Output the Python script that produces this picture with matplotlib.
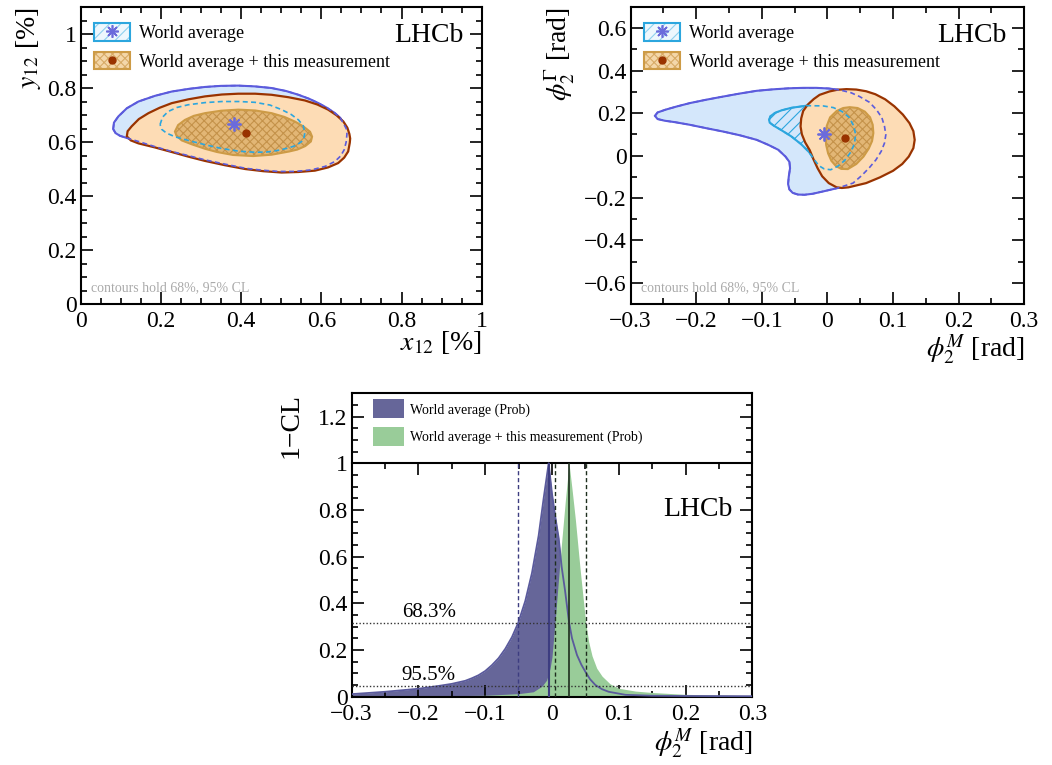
import matplotlib
matplotlib.use("Agg")
import matplotlib.pyplot as plt
from matplotlib.patches import Patch
from matplotlib.lines import Line2D
from matplotlib.ticker import MultipleLocator, FuncFormatter

plt.rcParams['font.family'] = 'serif'
plt.rcParams['font.serif'] = ['Liberation Serif', 'DejaVu Serif']
plt.rcParams['mathtext.fontset'] = 'stix'
plt.rcParams['hatch.linewidth'] = 0.8

# ---- x12 vs y12 contours [%]
wa95_x12 = [0.081, 0.083, 0.094, 0.115, 0.144, 0.185, 0.227, 0.270, 0.310, 0.350, 0.393,
            0.435, 0.476, 0.512, 0.543, 0.570, 0.593, 0.615, 0.634, 0.647, 0.655, 0.662,
            0.664, 0.662, 0.657, 0.648, 0.634, 0.610, 0.576, 0.535, 0.493, 0.450, 0.410,
            0.360, 0.310, 0.270, 0.227, 0.185, 0.144, 0.115, 0.098, 0.087]
wa95_y12 = [0.648, 0.672, 0.695, 0.725, 0.750, 0.771, 0.787, 0.797, 0.804, 0.808, 0.809,
            0.806, 0.800, 0.789, 0.775, 0.760, 0.744, 0.726, 0.707, 0.690, 0.670, 0.650,
            0.630, 0.600, 0.571, 0.548, 0.528, 0.510, 0.497, 0.491, 0.491, 0.496, 0.503,
            0.518, 0.534, 0.549, 0.565, 0.583, 0.602, 0.615, 0.623, 0.633]
wa68_x12 = [0.198, 0.204, 0.218, 0.240, 0.268, 0.310, 0.352, 0.395, 0.435, 0.472, 0.501,
            0.525, 0.543, 0.555, 0.559, 0.557, 0.551, 0.538, 0.518, 0.492, 0.464, 0.435,
            0.395, 0.352, 0.310, 0.268, 0.236, 0.214, 0.202]
wa68_y12 = [0.665, 0.692, 0.713, 0.728, 0.738, 0.746, 0.750, 0.750, 0.747, 0.737, 0.720,
            0.702, 0.682, 0.660, 0.635, 0.618, 0.602, 0.588, 0.578, 0.569, 0.563, 0.562,
            0.566, 0.576, 0.590, 0.606, 0.619, 0.633, 0.647]
cb95_x12 = [0.115, 0.117, 0.127, 0.145, 0.169, 0.197, 0.227, 0.268, 0.310, 0.352, 0.393,
            0.435, 0.476, 0.518, 0.559, 0.590, 0.617, 0.638, 0.655, 0.665, 0.670, 0.672,
            0.671, 0.667, 0.657, 0.642, 0.617, 0.584, 0.543, 0.501, 0.455, 0.410, 0.360,
            0.310, 0.268, 0.227, 0.185, 0.144, 0.125]
cb95_y12 = [0.621, 0.640, 0.658, 0.685, 0.707, 0.727, 0.744, 0.758, 0.769, 0.776, 0.779,
            0.779, 0.775, 0.766, 0.754, 0.739, 0.720, 0.699, 0.676, 0.653, 0.630, 0.613,
            0.597, 0.565, 0.542, 0.522, 0.506, 0.494, 0.489, 0.487, 0.492, 0.500, 0.514,
            0.530, 0.546, 0.563, 0.580, 0.595, 0.606]
cb68_x12 = [0.235, 0.243, 0.260, 0.282, 0.310, 0.350, 0.393, 0.435, 0.476, 0.508, 0.534,
            0.556, 0.572, 0.577, 0.574, 0.560, 0.540, 0.520, 0.476, 0.430, 0.380, 0.340,
            0.310, 0.278, 0.252, 0.239]
cb68_y12 = [0.639, 0.663, 0.682, 0.697, 0.707, 0.716, 0.720, 0.717, 0.707, 0.693, 0.676,
            0.657, 0.638, 0.620, 0.602, 0.585, 0.572, 0.565, 0.553, 0.548, 0.552, 0.563,
            0.575, 0.591, 0.606, 0.623]
wa_best_xy = (0.383, 0.666)
cb_best_xy = (0.411, 0.635)

# ---- phi2M vs phi2Gamma contours [rad]
wa95_phim = [-0.263, -0.259, -0.247, -0.230, -0.210, -0.185, -0.159, -0.134, -0.108, -0.083,
             -0.058, -0.037, -0.017, 0.002, 0.019, 0.036, 0.049, 0.064, 0.075, 0.083,
             0.087, 0.089, 0.087, 0.082, 0.074, 0.064, 0.052, 0.039, 0.016, -0.002,
             -0.022, -0.035, -0.045, -0.053, -0.058, -0.060, -0.059, -0.057, -0.058,
             -0.064, -0.075, -0.090, -0.108, -0.133, -0.159, -0.185, -0.210, -0.232,
             -0.248, -0.259]
wa95_phig = [0.187, 0.203, 0.216, 0.231, 0.247, 0.263, 0.278, 0.292, 0.305, 0.312,
             0.317, 0.319, 0.319, 0.316, 0.309, 0.296, 0.278, 0.251, 0.215, 0.178,
             0.137, 0.098, 0.059, 0.020, -0.020, -0.057, -0.095, -0.130, -0.153, -0.166,
             -0.180, -0.185, -0.184, -0.176, -0.160, -0.135, -0.100, -0.060, -0.030,
             -0.005, 0.027, 0.050, 0.074, 0.095, 0.113, 0.129, 0.145, 0.157, 0.164,
             0.172]
wa68_phim = [-0.089, -0.087, -0.080, -0.070, -0.055, -0.032, -0.007, 0.009, 0.022, 0.033,
             0.040, 0.043, 0.041, 0.036, 0.026, 0.016, 0.005, -0.005, -0.013, -0.020,
             -0.028, -0.040, -0.055, -0.070, -0.082, -0.088]
wa68_phig = [0.168, 0.185, 0.201, 0.213, 0.225, 0.235, 0.234, 0.226, 0.208, 0.180,
             0.140, 0.098, 0.055, 0.018, -0.024, -0.050, -0.067, -0.063, -0.048, -0.020,
             0.016, 0.053, 0.090, 0.119, 0.141, 0.155]
cb95_phim = [-0.012, -0.021, -0.030, -0.037, -0.040, -0.041, -0.039, -0.034, -0.027, -0.021,
             -0.015, -0.008, 0.002, 0.014, 0.022, 0.032, 0.059, 0.080, 0.100, 0.114,
             0.124, 0.131, 0.133, 0.131, 0.125, 0.115, 0.102, 0.088, 0.073, 0.059,
             0.044, 0.029, 0.015, 0.003]
cb95_phig = [0.286, 0.266, 0.240, 0.210, 0.175, 0.137, 0.100, 0.062, 0.025, -0.020,
             -0.060, -0.098, -0.130, -0.150, -0.153, -0.150, -0.130, -0.103, -0.072, -0.040,
             -0.005, 0.035, 0.074, 0.115, 0.153, 0.193, 0.232, 0.265, 0.289, 0.303,
             0.311, 0.313, 0.310, 0.302]
cb68_phim = [-0.003, -0.001, 0.004, 0.014, 0.024, 0.034, 0.046, 0.057, 0.065, 0.069,
             0.070, 0.068, 0.063, 0.055, 0.044, 0.031, 0.021, 0.013, 0.006, 0.001, -0.002]
cb68_phig = [0.098, 0.140, 0.180, 0.210, 0.224, 0.228, 0.224, 0.207, 0.180, 0.145,
             0.106, 0.068, 0.033, -0.005, -0.040, -0.064, -0.063, -0.050, -0.025, 0.010,
             0.050]
wa_best_phi = (-0.005, 0.100)
cb_best_phi = (0.026, 0.082)

# ---- 1-CL scans in phi2M
wa_scan_phi = [-0.300, -0.250, -0.200, -0.170, -0.150, -0.130, -0.120, -0.110, -0.100,
               -0.090, -0.080, -0.070, -0.060, -0.0505, -0.040, -0.030, -0.020, -0.0125,
               -0.005, 0.000, 0.005, 0.010, 0.0145, 0.0195, 0.0255, 0.030, 0.0375, 0.044,
               0.050, 0.057, 0.065, 0.075, 0.085, 0.110, 0.150, 0.200, 0.300]
wa_scan_cl = [0.011, 0.021, 0.034, 0.046, 0.055, 0.068, 0.079, 0.092, 0.110,
              0.135, 0.165, 0.205, 0.255, 0.317, 0.410, 0.530, 0.690, 0.850,
              1.000, 0.870, 0.770, 0.680, 0.556, 0.456, 0.320, 0.250, 0.178, 0.137,
              0.107, 0.075, 0.050, 0.032, 0.021, 0.008, 0.004, 0.003, 0.002]
cb_scan_phi = [-0.300, -0.200, -0.100, -0.050, -0.028, -0.015, -0.008, -0.003, 0.000,
               0.0045, 0.010, 0.015, 0.020, 0.0255, 0.030, 0.035, 0.042, 0.0505, 0.055,
               0.060, 0.067, 0.075, 0.087, 0.100, 0.125, 0.150, 0.200, 0.300]
cb_scan_cl = [0.002, 0.003, 0.006, 0.013, 0.021, 0.045, 0.071, 0.120, 0.170,
              0.317, 0.510, 0.680, 0.840, 1.000, 0.890, 0.760, 0.550, 0.317, 0.235,
              0.175, 0.122, 0.088, 0.055, 0.036, 0.024, 0.018, 0.010, 0.004]
wa_central, wa_lo = -0.005, -0.0505
cb_central, cb_lo, cb_hi = 0.0255, 0.0045, 0.0505
cl_levels = [0.317, 0.045]
cl_labels = ['68.3%', '95.5%']

# colours
WA_FILL, WA_LINE = '#d4e7fb', '#5b5bdc'
WA68_LINE = '#2ca6de'
CB_FILL, CB_LINE = '#fddcb5', '#993300'
CB68_FILL, CB68_HATCH, CB68_LINE = '#dcad66', '#c4924a', '#cd9b46'
STAR_COL = '#6b6bdb'
SCAN_WA, SCAN_CB = '#666699', '#99cc99'

DASH = (0, (3, 2))


def num_fmt(v, pos):
    v = round(v, 6)
    if v == 0:
        return '0'
    return f"{v:g}".replace('-', '\u2212')


def style_axes(ax, xmaj, xmin, ymaj, ymin, top=True):
    ax.xaxis.set_major_locator(MultipleLocator(xmaj))
    ax.xaxis.set_minor_locator(MultipleLocator(xmin))
    ax.yaxis.set_major_locator(MultipleLocator(ymaj))
    ax.yaxis.set_minor_locator(MultipleLocator(ymin))
    ax.xaxis.set_major_formatter(FuncFormatter(num_fmt))
    ax.yaxis.set_major_formatter(FuncFormatter(num_fmt))
    ax.tick_params(which='both', direction='in', top=top, right=True,
                   labelsize=17, width=1.2)
    ax.tick_params(which='major', length=8.5)
    ax.tick_params(which='minor', length=4.5)
    ax.tick_params(axis='x', pad=5)
    ax.tick_params(axis='y', pad=3)
    for s in ax.spines.values():
        s.set_linewidth(1.5)


def draw_contours(ax, wa95, wa68, cb95, cb68, wa_best, cb_best):
    # world average: filled 95%, hatched 68%
    ax.fill(*wa95, facecolor=WA_FILL, edgecolor=WA_LINE, lw=1.5, zorder=1)
    ax.fill(*wa68, facecolor='none', edgecolor=WA68_LINE, hatch='///', lw=0, zorder=2)
    ax.fill(*wa68, facecolor='none', edgecolor=WA68_LINE, lw=1.5, zorder=2)
    # world average + this measurement
    ax.fill(*cb95, facecolor=CB_FILL, edgecolor=CB_LINE, lw=1.6, zorder=3)
    ax.fill(*cb68, facecolor=CB68_FILL, edgecolor='none', alpha=0.8, zorder=4)
    ax.fill(*cb68, facecolor='none', edgecolor=CB68_HATCH, hatch='xxxx', lw=0, zorder=4)
    ax.fill(*cb68, facecolor='none', edgecolor=CB68_LINE, lw=1.5, zorder=4)
    # world average outlines again, dashed, on top
    ax.fill(*wa95, facecolor='none', edgecolor=WA_LINE, lw=1.2, ls=DASH, zorder=5)
    ax.fill(*wa68, facecolor='none', edgecolor=WA68_LINE, lw=1.2, ls=DASH, zorder=5)
    ax.plot(*wa_best, ls='none', marker=(8, 2, 0), ms=10, mew=1.3, color=STAR_COL, zorder=6)
    ax.plot(*cb_best, ls='none', marker='o', ms=5, color=CB_LINE, zorder=6)

    handles = [
        (Patch(facecolor='#eef7fd', edgecolor='none'),
         Patch(facecolor='none', edgecolor='#8fd0ee', hatch='///', lw=0),
         Patch(facecolor='none', edgecolor=WA68_LINE, lw=1.5),
         Line2D([], [], ls='none', marker=(8, 2, 0), ms=9, mew=1.2, color=STAR_COL)),
        (Patch(facecolor='#f4d7a9', edgecolor='none'),
         Patch(facecolor='none', edgecolor='#d7aa66', hatch='xxxx', lw=0),
         Patch(facecolor='none', edgecolor=CB68_LINE, lw=1.5),
         Line2D([], [], ls='none', marker='o', ms=5, color=CB_LINE)),
    ]
    ax.legend(handles, ['World average', 'World average + this measurement'],
              loc='upper left', bbox_to_anchor=(0.033, 0.945), frameon=False,
              fontsize=13, handlelength=2.0, handleheight=1.1, labelspacing=0.55,
              handletextpad=0.5, borderpad=0, borderaxespad=0)
    ax.text(0.955, 0.945, 'LHCb', transform=ax.transAxes, ha='right', va='top', fontsize=20)
    ax.text(0.025, 0.056, 'contours hold 68%, 95% CL', transform=ax.transAxes,
            ha='left', va='center', fontsize=10, color='#aaaaaa')


fig = plt.figure(figsize=(10.52, 7.65), dpi=100)

# top left: x12, y12
ax1 = fig.add_axes([0.0767, 0.6026, 0.3812, 0.3882])
draw_contours(ax1, (wa95_x12, wa95_y12), (wa68_x12, wa68_y12),
              (cb95_x12, cb95_y12), (cb68_x12, cb68_y12), wa_best_xy, cb_best_xy)
ax1.set_xlim(0, 1)
ax1.set_ylim(0, 1.1)
style_axes(ax1, 0.2, 0.05, 0.2, 0.05)
ax1.set_xlabel('$x_{12}$ [%]', fontsize=20, loc='right')
ax1.xaxis.set_label_coords(1.0, -0.085)
ax1.set_ylabel('$y_{12}$ [%]', fontsize=20, loc='top')
ax1.yaxis.set_label_coords(-0.094, 1.0)

# top right: phi2M, phi2Gamma
ax2 = fig.add_axes([0.5995, 0.6026, 0.3741, 0.3882])
draw_contours(ax2, (wa95_phim, wa95_phig), (wa68_phim, wa68_phig),
              (cb95_phim, cb95_phig), (cb68_phim, cb68_phig), wa_best_phi, cb_best_phi)
ax2.set_xlim(-0.3, 0.3)
ax2.set_ylim(-0.7, 0.7)
style_axes(ax2, 0.1, 0.05, 0.2, 0.1)
ax2.set_xlabel(r'$\phi_2^M$ [rad]', fontsize=20, loc='right')
ax2.xaxis.set_label_coords(1.0, -0.098)
ax2.set_ylabel(r'$\phi_2^\Gamma$ [rad]', fontsize=20, loc='top')
ax2.yaxis.set_label_coords(-0.136, 1.0)

# bottom: 1-CL scan of phi2M
ax3 = fig.add_axes([0.3343, 0.0893, 0.3808, 0.3966])
ax3.fill_between(wa_scan_phi, 0, wa_scan_cl, color=SCAN_WA, lw=0, zorder=1)
ax3.fill_between(cb_scan_phi, 0, cb_scan_cl, color=SCAN_CB, lw=0, zorder=2)
ax3.plot(wa_scan_phi, wa_scan_cl, color='#5a5a9c', lw=1.3, zorder=3)
ax3.vlines([wa_central], 0, 1, color='#3d3d80', lw=1.5, zorder=4)
ax3.vlines([wa_lo], 0, 1, color='#3d3d80', lw=1.0, ls=DASH, zorder=4)
ax3.vlines([cb_central], 0, 1, color='#1e2e1e', lw=1.2, zorder=4)
ax3.vlines([cb_lo, cb_hi], 0, 1, color='#1e2e1e', lw=1.0, ls=DASH, zorder=4)
for lev, lab in zip(cl_levels, cl_labels):
    ax3.axhline(lev, color='#333333', lw=1.0, ls=(0, (1, 1.5)), zorder=5)
    ax3.text(-0.225, lev + 0.004, lab, fontsize=15, ha='left', va='bottom', zorder=5)
ax3.set_xlim(-0.3, 0.3)
ax3.set_ylim(0, 1.3)
style_axes(ax3, 0.1, 0.05, 0.2, 0.05, top=False)
# legend box frame at 1-CL = 1 with its own ticks
sec = ax3.secondary_xaxis(1.0 / 1.3)
sec.xaxis.set_major_locator(MultipleLocator(0.1))
sec.xaxis.set_minor_locator(MultipleLocator(0.05))
sec.tick_params(which='both', direction='in', labeltop=False, labelbottom=False, width=1.2)
sec.tick_params(which='major', length=8.5)
sec.tick_params(which='minor', length=4.5)
for s in sec.spines.values():
    s.set_linewidth(1.5)
scan_handles = [Patch(facecolor=SCAN_WA, edgecolor='none'),
                Patch(facecolor=SCAN_CB, edgecolor='none')]
ax3.legend(scan_handles, ['World average (Prob)', 'World average + this measurement (Prob)'],
           loc='upper left', bbox_to_anchor=(0.054, 0.98), frameon=False, fontsize=10,
           handlelength=2.23, handleheight=1.73, labelspacing=0.6, handletextpad=0.4,
           borderpad=0, borderaxespad=0)
ax3.text(0.951, 0.659, 'LHCb', transform=ax3.transAxes, ha='right', va='top', fontsize=20)
ax3.set_xlabel(r'$\phi_2^M$ [rad]', fontsize=20, loc='right')
ax3.xaxis.set_label_coords(1.0, -0.099)
ax3.set_ylabel('1\u2212CL', fontsize=20, loc='top')
ax3.yaxis.set_label_coords(-0.121, 1.0)

fig.savefig('out.png', dpi=100)
